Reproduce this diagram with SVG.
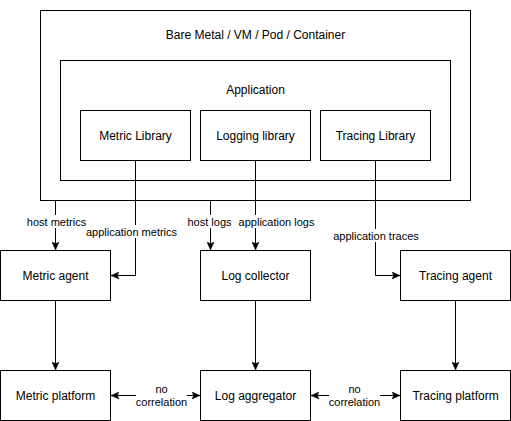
<svg xmlns="http://www.w3.org/2000/svg" width="511" height="421" viewBox="0 0 511 421">
<defs>
<style>
.box{fill:#fff;stroke:#000;stroke-width:1}
.t{font-family:"Liberation Sans",Arial,Helvetica,sans-serif;font-size:12px;fill:#000;text-anchor:middle}
.l{font-family:"Liberation Sans",Arial,Helvetica,sans-serif;font-size:11px;fill:#000;text-anchor:middle}
.c{fill:none;stroke:#000;stroke-width:1}
.bg{fill:#fff}
</style>
<marker id="arr" viewBox="0 0 8 8" refX="8" refY="4" markerWidth="8" markerHeight="8" markerUnits="userSpaceOnUse" orient="auto-start-reverse">
<path d="M0,0.5 L8,4 L0,7.5 L1.8,4 Z" fill="#000" stroke="#000" stroke-width="0.5"/>
</marker>
</defs>
<rect width="511" height="421" fill="#fff"/>
<g id="host">
<rect class="box" x="40.5" y="10.5" width="430" height="190"/>
<text class="t" x="255.5" y="38.5">Bare Metal / VM / Pod / Container</text>
</g>
<g id="application">
<rect class="box" x="60.5" y="60.5" width="390" height="120"/>
<text class="t" x="255.5" y="93.5">Application</text>
</g>
<g id="metric-library">
<rect class="box" x="80.5" y="110.5" width="110" height="50"/>
<text class="t" x="135.5" y="139.5">Metric Library</text>
</g>
<g id="logging-library">
<rect class="box" x="200.5" y="110.5" width="110" height="50"/>
<text class="t" x="255.5" y="139.5">Logging library</text>
</g>
<g id="tracing-library">
<rect class="box" x="320.5" y="110.5" width="110" height="50"/>
<text class="t" x="375.5" y="139.5">Tracing Library</text>
</g>
<g id="metric-agent">
<rect class="box" x="0.5" y="250.5" width="110" height="50"/>
<text class="t" x="55.5" y="279.5">Metric agent</text>
</g>
<g id="log-collector">
<rect class="box" x="200.5" y="250.5" width="110" height="50"/>
<text class="t" x="255.5" y="279.5">Log collector</text>
</g>
<g id="tracing-agent">
<rect class="box" x="400.5" y="250.5" width="110" height="50"/>
<text class="t" x="455.5" y="279.5">Tracing agent</text>
</g>
<g id="metric-platform">
<rect class="box" x="0.5" y="370.5" width="110" height="50"/>
<text class="t" x="55.5" y="399.5">Metric platform</text>
</g>
<g id="log-aggregator">
<rect class="box" x="200.5" y="370.5" width="110" height="50"/>
<text class="t" x="255.5" y="399.5">Log aggregator</text>
</g>
<g id="tracing-platform">
<rect class="box" x="400.5" y="370.5" width="110" height="50"/>
<text class="t" x="455.5" y="399.5">Tracing platform</text>
</g>
<g id="connectors">
<path class="c" d="M55.5,200.5 V250" marker-end="url(#arr)"/>
<path class="c" d="M135.5,160.5 V275.5 H111" marker-end="url(#arr)"/>
<path class="c" d="M210.5,200.5 V250" marker-end="url(#arr)"/>
<path class="c" d="M255.5,160.5 V250" marker-end="url(#arr)"/>
<path class="c" d="M375.5,160.5 V275.5 H400" marker-end="url(#arr)"/>
<path class="c" d="M55.5,300.5 V370" marker-end="url(#arr)"/>
<path class="c" d="M255.5,300.5 V370" marker-end="url(#arr)"/>
<path class="c" d="M455.5,300.5 V370" marker-end="url(#arr)"/>
<path class="c" d="M111,395.5 H200" marker-start="url(#arr)" marker-end="url(#arr)"/>
<path class="c" d="M311,395.5 H400" marker-start="url(#arr)" marker-end="url(#arr)"/>
<rect class="bg" x="26" y="215" width="61" height="13"/>
<text class="l" x="56.5" y="225.5">host metrics</text>
<rect class="bg" x="86" y="225" width="91" height="13"/>
<text class="l" x="131.5" y="235.5">application metrics</text>
<rect class="bg" x="187" y="215" width="45" height="13"/>
<text class="l" x="209.5" y="225.5">host logs</text>
<rect class="bg" x="239" y="215" width="76" height="13"/>
<text class="l" x="276.5" y="225.5">application logs</text>
<rect class="bg" x="333" y="229" width="86" height="13"/>
<text class="l" x="376" y="240">application traces</text>
<rect class="bg" x="136" y="383" width="51" height="26"/>
<text class="l" x="161.5" y="393">no</text>
<text class="l" x="161.5" y="406">correlation</text>
<rect class="bg" x="329" y="383" width="51" height="26"/>
<text class="l" x="354.5" y="393">no</text>
<text class="l" x="354.5" y="406">correlation</text>
</g>
</svg>
